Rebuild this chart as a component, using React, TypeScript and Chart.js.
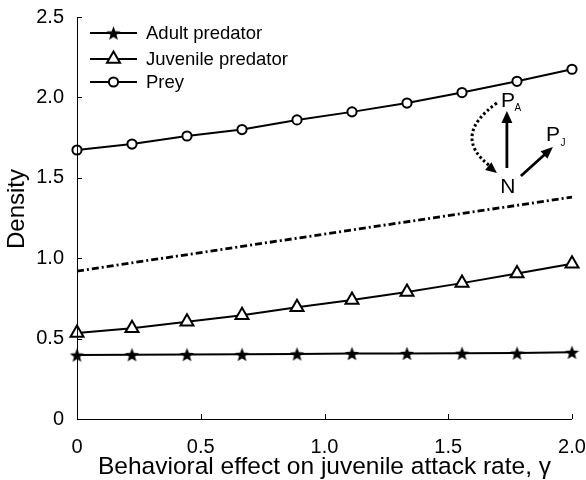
import React, { useEffect, useRef } from "react";
import { Chart, registerables } from "chart.js";
import { drawPoint } from "chart.js/helpers";

Chart.register(...registerables);

// ---- data ----
const gamma = [0, 0.2222, 0.4444, 0.6667, 0.8889, 1.1111, 1.3333, 1.5556, 1.7778, 2.0];
const adultPredator = [0.398, 0.4, 0.401, 0.402, 0.405, 0.407, 0.408, 0.409, 0.41, 0.415];
const juvenilePredator = [0.535, 0.565, 0.605, 0.645, 0.695, 0.74, 0.79, 0.845, 0.905, 0.965];
const prey = [1.673, 1.71, 1.76, 1.8, 1.86, 1.91, 1.965, 2.03, 2.1, 2.175];
const totalGamma = [0, 2.0];
const totalPredator = [0.92, 1.38];

const xTicks = [0, 0.5, 1.0, 1.5, 2.0];
const yTicks = [0, 0.5, 1.0, 1.5, 2.0, 2.5];
const seriesNames = ["Adult predator", "Juvenile predator", "Prey"];
const xTitle = "Behavioral effect on juvenile attack rate, γ";
const yTitle = "Density";

const FONT = "'Liberation Sans', Arial, Helvetica, sans-serif";

function makeStar(size: number): HTMLCanvasElement {
  const c = document.createElement("canvas");
  c.width = size;
  c.height = size;
  const g = c.getContext("2d")!;
  const cx = size / 2, cy = size / 2 + 0.8, R = size / 2, r = R * 0.42;
  g.beginPath();
  for (let i = 0; i < 10; i++) {
    const a = -Math.PI / 2 + (i * Math.PI) / 5;
    const rad = i % 2 ? r : R;
    g.lineTo(cx + rad * Math.cos(a), cy + rad * Math.sin(a));
  }
  g.closePath();
  g.fillStyle = "#000";
  g.fill();
  return c;
}

function arrowHead(ctx: CanvasRenderingContext2D, tx: number, ty: number, ang: number, len: number, w: number) {
  ctx.beginPath();
  ctx.moveTo(tx, ty);
  ctx.lineTo(tx - len * Math.cos(ang) + (w / 2) * Math.sin(ang), ty - len * Math.sin(ang) - (w / 2) * Math.cos(ang));
  ctx.lineTo(tx - len * Math.cos(ang) - (w / 2) * Math.sin(ang), ty - len * Math.sin(ang) + (w / 2) * Math.cos(ang));
  ctx.closePath();
  ctx.fill();
}

export default function App() {
  const ref = useRef<HTMLCanvasElement | null>(null);

  useEffect(() => {
    document.body.style.margin = "0";
    const star = makeStar(15);
    const markerStyles: any[] = [
      { pointStyle: star, radius: 7, borderWidth: 0 },
      { pointStyle: "triangle", radius: 7.5, borderWidth: 2 },
      { pointStyle: "circle", radius: 4.6, borderWidth: 2 },
    ];

    const axesPlugin = {
      id: "axesPlugin",
      afterDatasetsDraw(chart: any) {
        const { ctx, chartArea, scales } = chart;
        const { left, right, top, bottom } = chartArea;
        ctx.save();
        ctx.strokeStyle = "#000";
        ctx.lineWidth = 1;
        ctx.beginPath();
        ctx.moveTo(left + 0.5, top);
        ctx.lineTo(left + 0.5, bottom + 0.5);
        ctx.lineTo(right, bottom + 0.5);
        ctx.stroke();
        ctx.beginPath();
        for (const v of yTicks) {
          const py = Math.round(scales.y.getPixelForValue(v)) + 0.5;
          ctx.moveTo(left, py);
          ctx.lineTo(left + 5, py);
        }
        for (const v of xTicks) {
          const px = Math.round(scales.x.getPixelForValue(v)) + 0.5;
          ctx.moveTo(px, bottom);
          ctx.lineTo(px, bottom - 5);
        }
        ctx.stroke();
        // axis titles
        ctx.fillStyle = "#000";
        ctx.textAlign = "center";
        ctx.textBaseline = "middle";
        ctx.font = `24.5px ${FONT}`;
        ctx.fillText(xTitle, (left + right) / 2, 467);
        ctx.save();
        ctx.translate(17, 209);
        ctx.rotate(-Math.PI / 2);
        ctx.font = `24px ${FONT}`;
        ctx.fillText(yTitle, 0, 0);
        ctx.restore();
        ctx.restore();
      },
      afterDraw(chart: any) {
        const { ctx, scales } = chart;
        ctx.save();
        // legend
        const rows = [33, 59, 82];
        for (let i = 0; i < 3; i++) {
          const y = rows[i];
          ctx.strokeStyle = "#000";
          ctx.lineWidth = 2;
          ctx.setLineDash([]);
          ctx.beginPath();
          ctx.moveTo(90, y);
          ctx.lineTo(137, y);
          ctx.stroke();
          ctx.fillStyle = "#fff";
          ctx.strokeStyle = "#000";
          ctx.lineWidth = markerStyles[i].borderWidth || 1;
          drawPoint(ctx, { ...markerStyles[i], rotation: 0 }, 113.5, y);
          ctx.fillStyle = "#000";
          ctx.font = `18.5px ${FONT}`;
          ctx.textAlign = "left";
          ctx.textBaseline = "middle";
          ctx.fillText(seriesNames[i], 146, y + 1);
        }
        // inset diagram
        const nx = scales.x.getPixelForValue(1.741);
        const ny = scales.y.getPixelForValue(1.449);
        ctx.fillStyle = "#000";
        ctx.strokeStyle = "#000";
        ctx.textAlign = "center";
        ctx.textBaseline = "middle";
        ctx.font = `21px ${FONT}`;
        ctx.fillText("N", nx, ny + 1);
        ctx.fillText("P", nx, ny - 85);
        ctx.fillText("P", nx + 45, ny - 51);
        ctx.font = `10px ${FONT}`;
        ctx.fillText("A", nx + 10, ny - 78);
        ctx.fillText("J", nx + 55, ny - 43);
        ctx.lineWidth = 2.8;
        ctx.beginPath();
        ctx.moveTo(nx - 1, ny - 18);
        ctx.lineTo(nx - 1, ny - 64);
        ctx.stroke();
        arrowHead(ctx, nx - 1, ny - 75, -Math.PI / 2, 12, 11);
        const ang = Math.atan2(-28, 31);
        ctx.beginPath();
        ctx.moveTo(nx + 13, ny - 10);
        ctx.lineTo(nx + 44 - 9 * Math.cos(ang), ny - 38 - 9 * Math.sin(ang));
        ctx.stroke();
        arrowHead(ctx, nx + 45, ny - 39, ang, 12, 10);
        // dotted curve
        ctx.setLineDash([2.5, 2.5]);
        ctx.lineWidth = 3;
        ctx.beginPath();
        ctx.moveTo(nx - 11, ny - 83);
        ctx.quadraticCurveTo(nx - 57, ny - 50, nx - 18, ny - 20);
        ctx.stroke();
        ctx.setLineDash([]);
        arrowHead(ctx, nx - 11, ny - 13, Math.atan2(35, 44), 11, 10);
        ctx.restore();
      },
    };

    const toPts = (xs: number[], ys: number[]) => xs.map((x, i) => ({ x, y: ys[i] }));

    const chart = new Chart(ref.current!, {
      type: "line",
      data: {
        datasets: [
          {
            label: seriesNames[0],
            data: toPts(gamma, adultPredator),
            borderColor: "#000",
            borderWidth: 2,
            pointStyle: star as any,
            pointRadius: 7,
            pointBorderWidth: 0,
            backgroundColor: "#000",
            clip: false as any,
          },
          {
            label: seriesNames[1],
            data: toPts(gamma, juvenilePredator),
            borderColor: "#000",
            borderWidth: 2,
            pointStyle: "triangle",
            pointRadius: 7.5,
            pointBorderWidth: 2,
            pointBackgroundColor: "#fff",
            pointBorderColor: "#000",
            clip: false as any,
          },
          {
            label: seriesNames[2],
            data: toPts(gamma, prey),
            borderColor: "#000",
            borderWidth: 2,
            pointStyle: "circle",
            pointRadius: 4.6,
            pointBorderWidth: 2,
            pointBackgroundColor: "#fff",
            pointBorderColor: "#000",
            clip: false as any,
          },
          {
            label: "Total predator",
            data: toPts(totalGamma, totalPredator),
            borderColor: "#000",
            borderWidth: 2.8,
            borderDash: [7, 3, 2, 3],
            pointRadius: 0,
            clip: false as any,
          },
        ],
      },
      options: {
        animation: false,
        responsive: false,
        devicePixelRatio: 1,
        layout: { padding: { top: 17, right: 14, left: 0, bottom: 0 } },
        plugins: { legend: { display: false }, tooltip: { enabled: false } },
        scales: {
          x: {
            type: "linear",
            min: 0,
            max: 2,
            afterBuildTicks: (s: any) => {
              s.ticks = xTicks.map((v) => ({ value: v }));
            },
            afterFit: (s: any) => {
              s.height = 61;
              s.paddingLeft = 0;
              s.paddingRight = 0;
            },
            grid: { display: false },
            border: { display: false },
            ticks: {
              color: "#000",
              font: { family: FONT, size: 20 },
              padding: 8,
              maxRotation: 0,
              callback: (v: any) => (v === 0 ? "0" : Number(v).toFixed(1)),
            },
            title: { display: false },
          },
          y: {
            type: "linear",
            min: 0,
            max: 2.5,
            afterBuildTicks: (s: any) => {
              s.ticks = yTicks.map((v) => ({ value: v }));
            },
            afterFit: (s: any) => {
              s.width = 77;
              s.paddingTop = 0;
              s.paddingBottom = 0;
            },
            grid: { display: false },
            border: { display: false },
            ticks: {
              color: "#000",
              font: { family: FONT, size: 20 },
              padding: 5,
              callback: (v: any) => (v === 0 ? "0" : Number(v).toFixed(1)),
            },
            title: { display: false },
          },
        },
      } as any,
      plugins: [axesPlugin],
    });
    return () => chart.destroy();
  }, []);

  return (
    <div style={{ position: "absolute", left: 0, top: 0, width: 586, height: 480, background: "#fff" }}>
      <canvas ref={ref} width={586} height={480} />
    </div>
  );
}
